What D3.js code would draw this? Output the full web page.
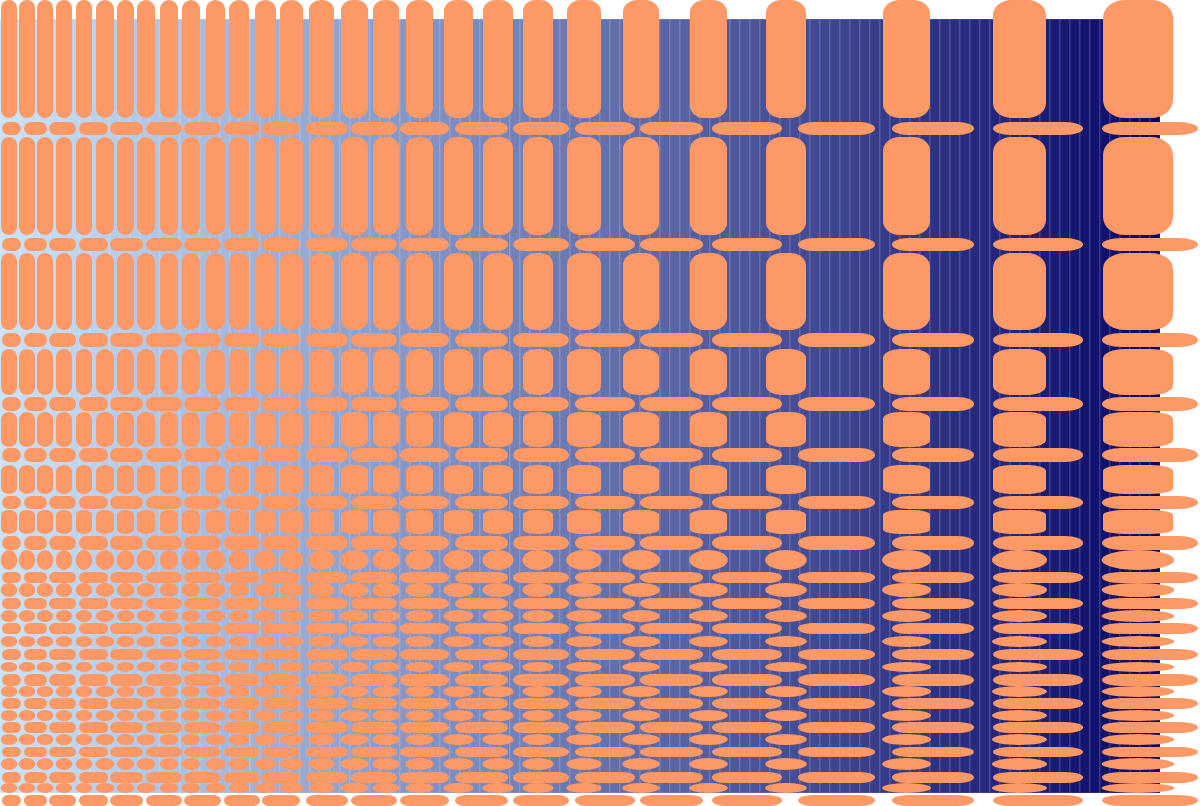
<!DOCTYPE html>
<html>
<head>
<meta charset="utf-8">
<script src="https://cdn.jsdelivr.net/npm/d3@7"></script>
<style>
  body { margin: 0; background: #fff; }
  svg { display: block; }
</style>
</head>
<body>
<svg id="chart"></svg>
<script>
// column extents (value units)
const stripeIds = d3.range(116);
const vCols = [[1,17],[19,35],[37,53],[56,72],[76,92],[96,114],[117,134],[137,155],[160,178],[182,200],
  [206,225],[229,249],[255,276],[280,303],[309,334],[341,368],[373,399],[406,433],[444,473],[483,513],
  [523,553],[567,601],[623,659],[690,727],[766,806],[883,930],[993,1046],[1103,1173]];
const hCols = [[2,21],[24,47],[49,76],[79,108],[110,143],[146,182],[184,221],[224,260],[262,300],[306,348],
  [351,397],[400,449],[455,508],[513,569],[575,635],[640,703],[712,782],[798,875],[892,974],[993,1083],[1102,1198]];

// row extents
const tallRows = [[0,118],[137,235],[253,330],[349,395],[412,447],[465,494],[510,534]];
const ovalRows = [[550,570],[583,597],[610,622],[636,647],[662,672],[686,697],[710,721],[734,745],[758,770],[783,793]];
const flatRows = [[122,135],[238,251],[333,347],[397,411],[448,462],[496,509],[536,550],[572,583],[598,609],
  [623,634],[649,660],[674,686],[698,709],[722,733],[747,757],[772,783],[795,806]];

class PatternChart {
  constructor(_config) {
    this.config = {
      parentElement: _config.parentElement,
      containerWidth: _config.containerWidth || 1200,
      containerHeight: _config.containerHeight || 806,
      plotWidth: 1160,
      plotTop: 19,
      plotBottom: 793
    }
    this.initVis();
  }

  initVis() {
    let vis = this;

    vis.svg = d3.select(vis.config.parentElement)
        .attr('width', vis.config.containerWidth)
        .attr('height', vis.config.containerHeight);

    vis.xScale = d3.scaleLinear().domain([0, 1200]).range([0, vis.config.containerWidth]);
    vis.yScale = d3.scaleLinear().domain([0, 806]).range([0, vis.config.containerHeight]);

    vis.stripeScale = d3.scaleBand()
        .domain(stripeIds)
        .range([0, vis.config.plotWidth])
        .padding(0);

    vis.color = d3.scaleSequential()
        .domain([0, stripeIds.length - 1])
        .interpolator(d3.interpolateRgb("#c9e3f9", "#080868"));

    vis.orange = "#fd9966";

    vis.renderVis();
  }

  renderVis() {
    let vis = this;

    // background stripes
    vis.svg.selectAll(".stripe")
        .data(stripeIds)
      .join("rect")
        .attr("class", "stripe")
        .attr("x", d => vis.stripeScale(d))
        .attr("y", vis.config.plotTop)
        .attr("width", vis.stripeScale.bandwidth())
        .attr("height", vis.config.plotBottom - vis.config.plotTop)
        .attr("fill", d => vis.color(d))
        .attr("stroke", "rgba(255,255,255,0.22)")
        .attr("stroke-width", 0.8);

    // tall rounded bars
    let tall = [];
    tallRows.forEach(r => vCols.forEach(c => tall.push({c: c, r: r})));
    vis.svg.selectAll(".tall")
        .data(tall)
      .join("rect")
        .attr("class", "tall")
        .attr("x", d => vis.xScale(d.c[0]))
        .attr("y", d => vis.yScale(d.r[0]))
        .attr("width", d => vis.xScale(d.c[1]) - vis.xScale(d.c[0]))
        .attr("height", d => vis.yScale(d.r[1]) - vis.yScale(d.r[0]))
        .attr("rx", d => {
          let w = vis.xScale(d.c[1]) - vis.xScale(d.c[0]);
          return Math.min(w / 2, 6 + w * 0.23);
        })
        .attr("ry", d => {
          let w = vis.xScale(d.c[1]) - vis.xScale(d.c[0]);
          let h = vis.yScale(d.r[1]) - vis.yScale(d.r[0]);
          return Math.min(Math.min(w / 2, 6 + w * 0.17), h / 5);
        })
        .attr("fill", vis.orange);

    // flat pills
    let flat = [];
    flatRows.forEach(r => hCols.forEach(c => flat.push({c: c, r: r})));
    vis.svg.selectAll(".flat")
        .data(flat)
      .join("rect")
        .attr("class", "flat")
        .attr("x", d => vis.xScale(d.c[0]))
        .attr("y", d => vis.yScale(d.r[0]))
        .attr("width", d => vis.xScale(d.c[1]) - vis.xScale(d.c[0]))
        .attr("height", d => vis.yScale(d.r[1]) - vis.yScale(d.r[0]))
        .attr("rx", d => {
          let w = vis.xScale(d.c[1]) - vis.xScale(d.c[0]);
          let h = vis.yScale(d.r[1]) - vis.yScale(d.r[0]);
          return Math.min(w / 2, Math.max(h / 2, w * 0.2));
        })
        .attr("ry", d => (vis.yScale(d.r[1]) - vis.yScale(d.r[0])) / 2)
        .attr("fill", vis.orange);

    // ovals
    let ovals = [];
    ovalRows.forEach(r => vCols.forEach(c => ovals.push({c: c, r: r})));
    vis.svg.selectAll(".oval")
        .data(ovals)
      .join("ellipse")
        .attr("class", "oval")
        .attr("cx", d => vis.xScale((d.c[0] + d.c[1]) / 2))
        .attr("cy", d => vis.yScale((d.r[0] + d.r[1]) / 2))
        .attr("rx", d => (vis.xScale(d.c[1]) - vis.xScale(d.c[0])) * 0.52)
        .attr("ry", d => (vis.yScale(d.r[1]) - vis.yScale(d.r[0])) / 2)
        .attr("fill", vis.orange);
  }
}

new PatternChart({ parentElement: '#chart' });
</script>
</body>
</html>
